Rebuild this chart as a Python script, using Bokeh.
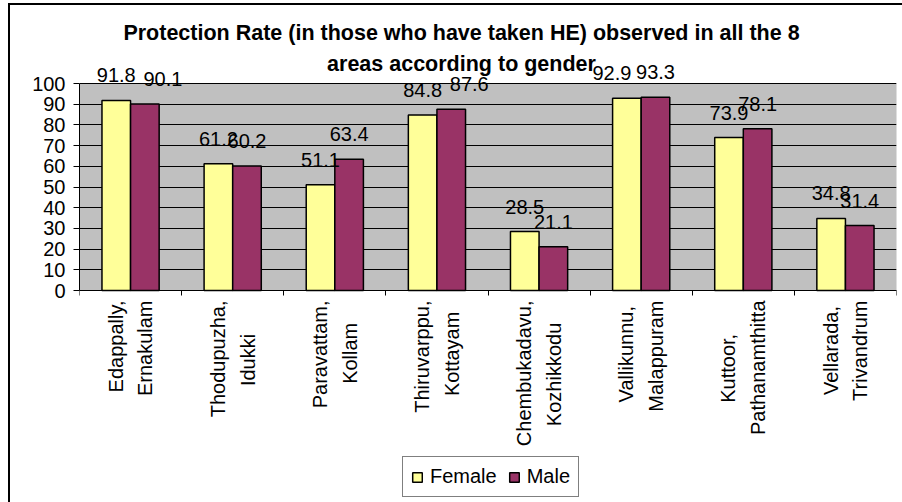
import math
import numpy as np
from bokeh.plotting import figure
from bokeh.models import (ColumnDataSource, Range1d, FixedTicker, LabelSet, Label,
                          Legend, LegendItem, InlineStyleSheet, BoxAnnotation)
from bokeh.core.properties import value
from bokeh.embed import file_html
from bokeh.resources import INLINE

# ---- data ----
areas = ["Edappally,\nErnakulam", "Thodupuzha,\nIdukki", "Paravattam,\nKollam",
         "Thiruvarppu,\nKottayam", "Chembukadavu,\nKozhikkodu", "Vallikunnu,\nMalappuram",
         "Kuttoor,\nPathanamthitta", "Vellarada,\nTrivandrum"]
female = [91.8, 61.2, 51.1, 84.8, 28.5, 92.9, 73.9, 34.8]
male = [90.1, 60.2, 63.4, 87.6, 21.1, 93.3, 78.1, 31.4]
y_ticks = [0, 10, 20, 30, 40, 50, 60, 70, 80, 90, 100]
series_names = ["Female", "Male"]
title_lines = ["Protection Rate (in those who have taken HE) observed in all the 8",
               "areas according to gender"]

# ---- layout / style ----
FONT = "Liberation Sans"
FS_PX = 20
FS = f"{FS_PX}px"
female_color = "#FFFF99"
male_color = "#993366"
PLOT_TOP = 83        # pixel row of the value 100
AXIS_Y = 290         # pixel row of the value 0
FRAME_H = 502        # frame covers the whole picture height
FRAME_W = 817
PX_PER_UNIT = (AXIS_Y - PLOT_TOP) / 100
# small pixel nudges of data labels (as placed in the original)
label_dx_female = [0, 0, 0, 0, 0, -15, 0, 0]
label_dx_male = [18, 0, 0, 18, 0, 0, 0, 0]

# Arial / Liberation Sans advance widths (1/1000 em), used to centre the
# two lines of each rotated category label
_W = {"E": 667, "T": 611, "I": 278, "P": 667, "K": 667, "C": 722, "V": 667, "M": 833,
      "a": 556, "b": 556, "d": 556, "e": 556, "h": 556, "i": 222, "k": 500, "l": 222,
      "m": 833, "n": 556, "o": 556, "p": 556, "r": 333, "t": 278, "u": 556, "v": 500,
      "y": 500, "z": 500, ",": 278, " ": 278}
NBSP = "\u00a0"


def text_w(s):
    return sum(_W.get(ch, 556) for ch in s) / 1000 * FS_PX


def centred(label):
    lines = label.split("\n")
    wmax = max(text_w(s) for s in lines)
    sp = 0.278 * FS_PX
    return "\n".join(s + NBSP * int(round((wmax - text_w(s)) / 2 / sp)) for s in lines)


n = len(areas)
idx = np.arange(n)
centers = idx + 0.5
bw = 0.28

src = ColumnDataSource(dict(
    xf=centers - bw / 2, xm=centers + bw / 2,
    female=female, male=male,
    lf=[f"{v:.1f}" for v in female], lm=[f"{v:.1f}" for v in male],
    dxf=label_dx_female, dxm=label_dx_male,
))

y_start = -(FRAME_H - AXIS_Y) / PX_PER_UNIT
y_end = AXIS_Y / PX_PER_UNIT

p = figure(frame_width=FRAME_W, frame_height=FRAME_H, title=None,
           x_range=Range1d(0, n), y_range=Range1d(y_start, y_end),
           output_backend="svg", toolbar_location=None,
           min_border_left=79, min_border_right=6, min_border_top=0, min_border_bottom=0,
           background_fill_color=None, border_fill_color=None,
           outline_line_color=None)
p.stylesheets = [InlineStyleSheet(css=(
    ":host { background:"
    " linear-gradient(#000,#000) 8px 3px / calc(100% - 8px) 2px no-repeat,"
    " linear-gradient(#000,#000) 8px 3px / 2px calc(100% - 3px) no-repeat; }"))]

# plot area (grey box from 0 to 100)
p.add_layout(BoxAnnotation(bottom=0, top=100, fill_color="#C0C0C0", fill_alpha=1,
                           line_color="#808080", line_width=1, level="image"))

r1 = p.vbar(x="xf", top="female", width=bw, source=src, fill_color=female_color,
            line_color="black", line_width=1.5)
r2 = p.vbar(x="xm", top="male", width=bw, source=src, fill_color=male_color,
            line_color="black", line_width=1.5)

# grid
p.xgrid.visible = False
p.ygrid.ticker = FixedTicker(ticks=y_ticks)
p.ygrid.grid_line_color = "black"
p.ygrid.grid_line_width = 1

# y axis
yax = p.yaxis[0]
yax.ticker = FixedTicker(ticks=y_ticks)
yax.bounds = (0, 100)
yax.axis_line_color = "black"
yax.major_tick_out = 6
yax.major_tick_in = 0
yax.minor_tick_line_color = None
yax.major_label_text_font = FONT
yax.major_label_text_font_size = FS
yax.major_label_text_color = "black"
yax.major_label_standoff = 8

# x axis at value 0: boundary tick marks + rotated category names
xax = p.xaxis[0]
xax.fixed_location = 0
xax.ticker = FixedTicker(ticks=list(centers), minor_ticks=list(range(n + 1)))
xax.axis_line_color = "black"
xax.major_tick_line_color = None
xax.major_tick_out = 5
xax.major_tick_in = 0
xax.minor_tick_out = 5
xax.minor_tick_in = 0
xax.minor_tick_line_color = "black"
xax.major_label_overrides = {float(c): centred(a) for c, a in zip(centers, areas)}
xax.major_label_orientation = math.pi / 2
xax.major_label_text_font = FONT
xax.major_label_text_font_size = FS
xax.major_label_text_color = "black"
xax.major_label_text_line_height = 1.35
xax.major_label_standoff = 5

# data labels
for xcol, ycol, tcol, dcol in [("xf", "female", "lf", "dxf"), ("xm", "male", "lm", "dxm")]:
    p.add_layout(LabelSet(x=xcol, y=ycol, text=tcol, source=src, x_offset=dcol, y_offset=18,
                          text_align="center", text_baseline="alphabetic",
                          text_font=value(FONT), text_font_size=FS, text_color="black"))

# title (two centred lines)
for txt, row in zip(title_lines, [32, 63]):
    p.add_layout(Label(x=461 - 79, y=FRAME_H - row, x_units="screen", y_units="screen",
                       text=txt, text_align="center", text_baseline="middle",
                       text_font=FONT, text_font_size="21.5px", text_font_style="bold",
                       text_color="black"))

legend = Legend(items=[LegendItem(label=series_names[0], renderers=[r1]),
                       LegendItem(label=series_names[1], renderers=[r2])],
                orientation="horizontal", location=(402 - 79, FRAME_H - 497),
                border_line_color="black", border_line_width=1,
                background_fill_color="white", background_fill_alpha=1,
                label_text_font=FONT, label_text_font_size=FS, label_text_color="black",
                glyph_width=12, glyph_height=12, label_standoff=7, spacing=11,
                padding=8, margin=0)
p.add_layout(legend)

open("out.html", "w").write(file_html(p, INLINE))
